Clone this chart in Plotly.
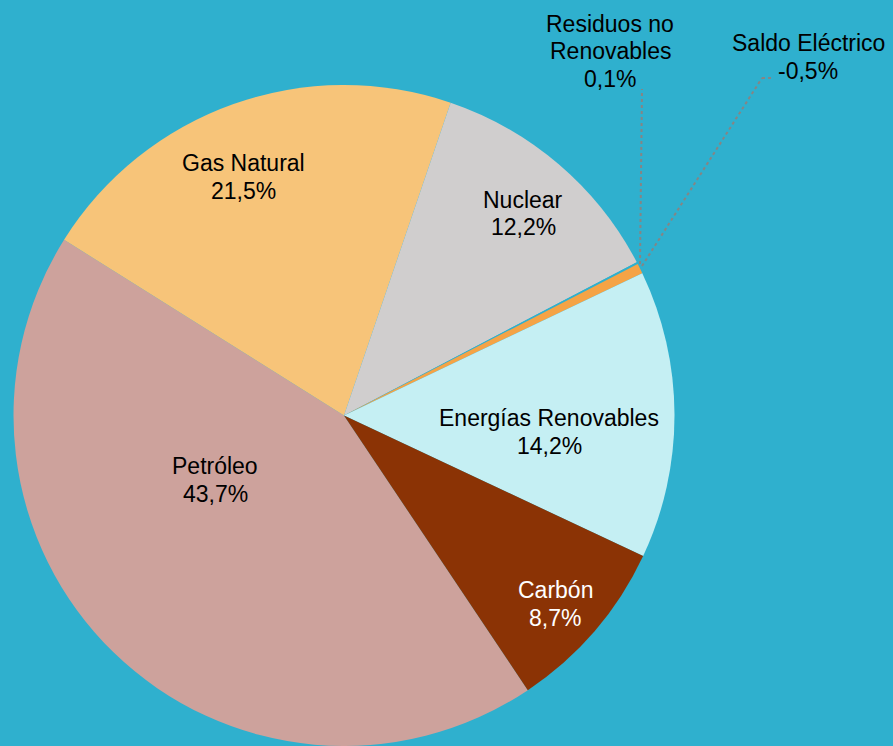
import plotly.graph_objects as go

# Data
labels = ["Petróleo", "Gas Natural", "Nuclear", "Residuos no Renovables",
          "Saldo Eléctrico", "Energías Renovables", "Carbón"]
values = [43.7, 21.5, 12.2, 0.1, 0.5, 14.2, 8.7]
shown_pct = ["43,7%", "21,5%", "12,2%", "0,1%", "-0,5%", "14,2%", "8,7%"]
label_lines = [["Petróleo"], ["Gas Natural"], ["Nuclear"], ["Residuos no", "Renovables"],
               ["Saldo Eléctrico"], ["Energías Renovables"], ["Carbón"]]
colors = ["#CDA29C", "#F7C479", "#D0CECE", "#2FB0CE", "#F5A345", "#C5EFF3", "#8B3305"]
label_colors = ["black", "black", "black", "black", "black", "black", "white"]

W, H = 893, 746
BG = "#2FB0CE"

fig = go.Figure(go.Pie(
    labels=labels,
    values=values,
    sort=False,
    direction="clockwise",
    rotation=146.2,
    marker=dict(colors=colors, line=dict(width=0)),
    textinfo="none",
    hoverinfo="label+percent",
    showlegend=False,
    domain=dict(x=[13.5 / W, 674.5 / W], y=[0, (H - 85) / H]),
))

# label positions (pixel centers of first line) — layout only
label_pos = [(215, 466), (244, 163), (523, 200), (610, 24), (808, 43), (549, 418), (555, 590)]
LINE = 27.5
for lines, pct, (px, py), c in zip(label_lines, shown_pct, label_pos, label_colors):
    for i, t in enumerate(lines + [pct]):
        fig.add_annotation(
            x=px / W, y=1 - (py + i * LINE) / H, xref="paper", yref="paper",
            text=t, showarrow=False,
            font=dict(family="Liberation Sans, Arial", size=23, color=c),
            align="center", xanchor="center", yanchor="middle",
        )

# leader lines
def seg(x0, y0, x1, y1):
    fig.add_shape(type="line", xref="paper", yref="paper",
                  x0=x0 / W, y0=1 - y0 / H, x1=x1 / W, y1=1 - y1 / H,
                  line=dict(color="#858585", width=2, dash="dot"))

seg(640, 264, 642, 89)
seg(642, 266, 762, 78)
seg(762, 78, 772, 78)

fig.update_layout(
    width=W, height=H,
    margin=dict(l=0, r=0, t=0, b=0),
    paper_bgcolor=BG, plot_bgcolor=BG,
)

fig.write_html(
    "out.html",
    config={"displayModeBar": False},
    post_script="document.body.style.margin='0';document.body.style.padding='0';"
                "document.body.style.background='#2FB0CE';"
                "document.documentElement.style.background='#2FB0CE';",
)
